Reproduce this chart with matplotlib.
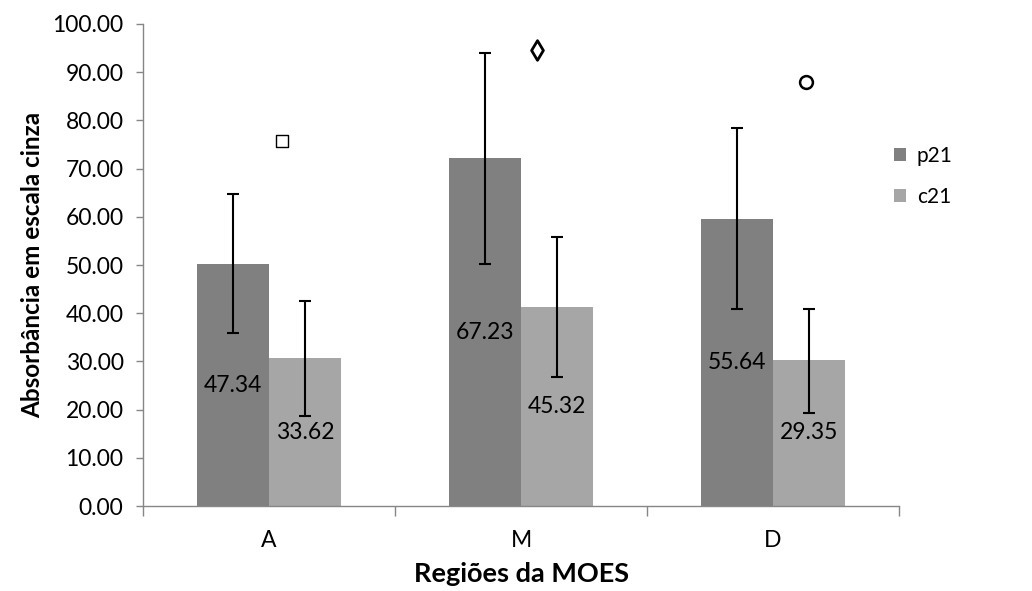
import numpy as np
import matplotlib
matplotlib.use("Agg")
import matplotlib.pyplot as plt
from matplotlib.ticker import FormatStrFormatter, FixedLocator

plt.rcParams['font.family'] = ['Lato', 'DejaVu Sans']

# dados
regioes = ['A', 'M', 'D']
p21 = [50.2, 72.1, 59.6]
c21 = [30.7, 41.3, 30.3]
p21_err_lo = [35.8, 50.2, 40.8]
p21_err_hi = [64.7, 94.0, 78.4]
c21_err_lo = [18.7, 26.8, 19.4]
c21_err_hi = [42.6, 55.8, 40.9]
p21_rotulos = ['47.34', '67.23', '55.64']
c21_rotulos = ['33.62', '45.32', '29.35']

# marcadores de significância
marc_y = [75.8, 94.7, 88.0]
marc_dx = [0.05, 0.065, 0.13]
marc_tipo = ['s', 'd', 'o']

cor_p21 = '#808080'
cor_c21 = '#a6a6a6'
cor_eixo = '#868686'

fig = plt.figure(figsize=(10.32, 5.91), dpi=100)
ax = fig.add_axes([0.1386, 0.1438, 0.7325, 0.8156])

x = np.arange(len(regioes))
w = 0.284

b1 = ax.bar(x - w / 2, p21, w, color=cor_p21, label='p21', zorder=2)
b2 = ax.bar(x + w / 2, c21, w, color=cor_c21, label='c21', zorder=2)

p21_err = [np.array(p21) - np.array(p21_err_lo), np.array(p21_err_hi) - np.array(p21)]
c21_err = [np.array(c21) - np.array(c21_err_lo), np.array(c21_err_hi) - np.array(c21)]
ax.errorbar(x - w / 2, p21, yerr=p21_err, fmt='none', ecolor='black',
            elinewidth=1.5, capsize=4.5, capthick=1.5, zorder=3)
ax.errorbar(x + w / 2, c21, yerr=c21_err, fmt='none', ecolor='black',
            elinewidth=1.5, capsize=4.5, capthick=1.5, zorder=3)

ax.bar_label(b1, labels=p21_rotulos, label_type='center', fontsize=16.5, color='black', zorder=4)
ax.bar_label(b2, labels=c21_rotulos, label_type='center', fontsize=16.5, color='black', zorder=4)

tamanhos = {'s': 64, 'd': 100, 'o': 85}
larguras = {'s': 1.0, 'd': 2.0, 'o': 1.8}
for xi, dx, yi, m in zip(x, marc_dx, marc_y, marc_tipo):
    ax.scatter(xi + dx, yi, marker=m, s=tamanhos[m], facecolors='white',
               edgecolors='black', linewidths=larguras[m], zorder=5)

ax.set_xlim(-0.5, 2.5)
ax.set_ylim(0, 100)
ax.set_yticks(np.arange(0, 101, 10))
ax.yaxis.set_major_formatter(FormatStrFormatter('%.2f'))

ax.xaxis.set_major_locator(FixedLocator([-0.5, 0.5, 1.5, 2.5]))
ax.xaxis.set_major_formatter(plt.NullFormatter())
ax.xaxis.set_minor_locator(FixedLocator(x))
ax.set_xticklabels(regioes, minor=True)
ax.tick_params(axis='x', which='minor', length=0, pad=17, labelsize=16.5)
ax.tick_params(axis='x', which='major', length=7, color=cor_eixo, width=1)
ax.tick_params(axis='y', length=5, color=cor_eixo, width=1, labelsize=16.5, pad=9)

for s in ['top', 'right']:
    ax.spines[s].set_visible(False)
for s in ['left', 'bottom']:
    ax.spines[s].set_color(cor_eixo)
    ax.spines[s].set_linewidth(1)

ax.set_ylabel('Absorbância em escala cinza', fontsize=17.5, fontweight='bold', labelpad=6)
ax.set_xlabel('Regiões da MOES', fontsize=19.5, fontweight='bold', labelpad=8)

fig.legend(handles=[b1, b2], loc='upper left', bbox_to_anchor=(0.848, 0.785),
           frameon=False, fontsize=15, handlelength=0.6, handleheight=0.6,
           handletextpad=0.5, labelspacing=1.0)

fig.savefig('out.png', dpi=100)
